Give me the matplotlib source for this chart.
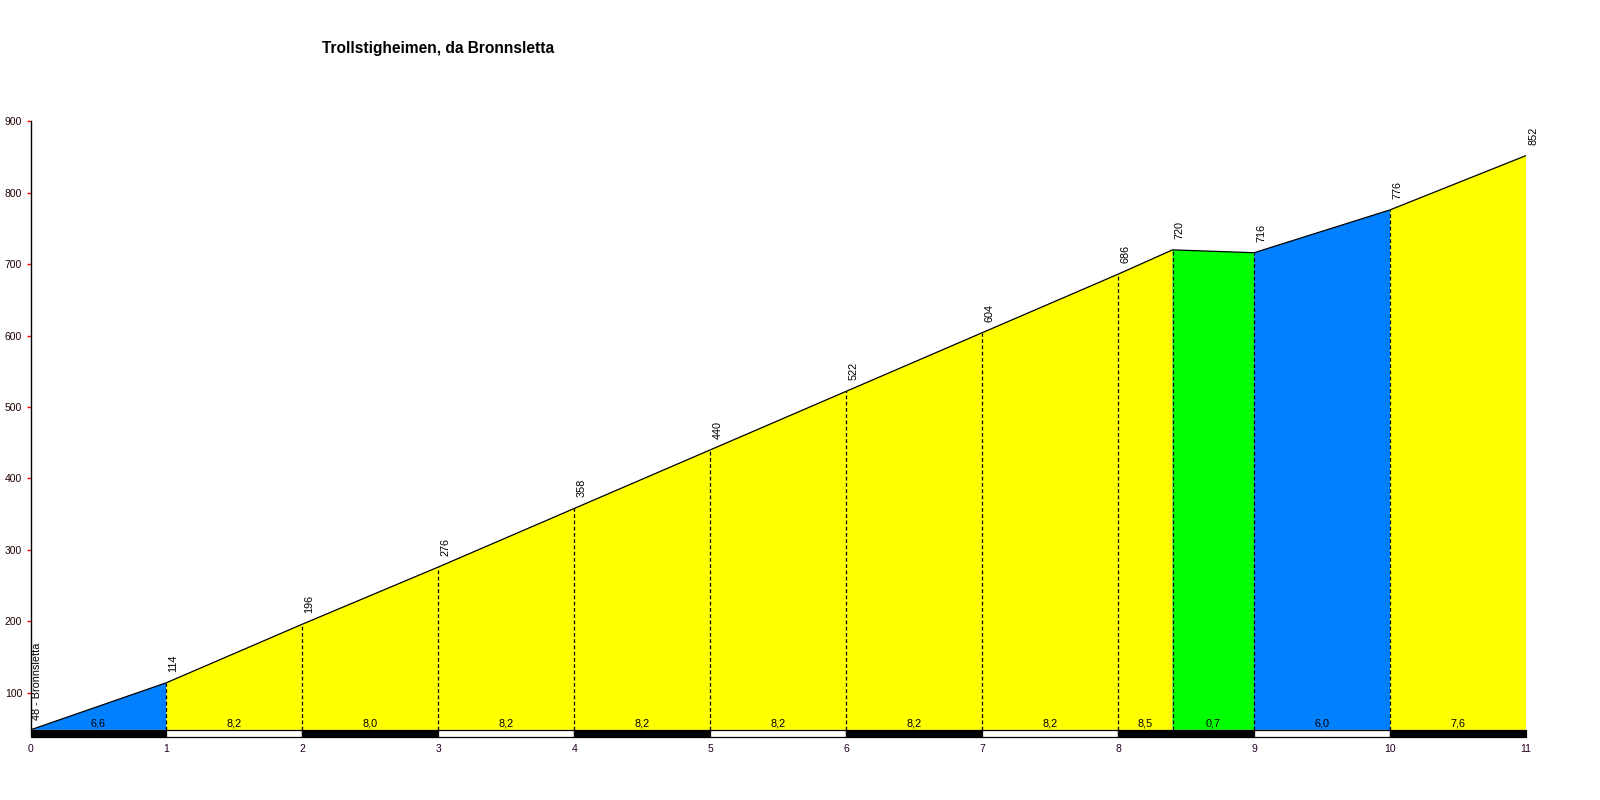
import matplotlib
matplotlib.use("Agg")
import matplotlib.pyplot as plt
from matplotlib.patches import Polygon, Rectangle
from matplotlib.transforms import offset_copy

# ---- data ----
dist = [0, 1, 2, 3, 4, 5, 6, 7, 8, 8.4, 9, 10, 11]
elev = [48, 114, 196, 276, 358, 440, 522, 604, 686, 720, 716, 776, 852]
grades = ["6,6", "8,2", "8,0", "8,2", "8,2", "8,2", "8,2", "8,2", "8,5", "0,7", "6,0", "7,6"]
seg_colors = ["#0080FF", "#FFFF00", "#FFFF00", "#FFFF00", "#FFFF00", "#FFFF00",
              "#FFFF00", "#FFFF00", "#FFFF00", "#00FF00", "#0080FF", "#FFFF00"]
start_label = "48 - Bronnsletta"
title = "Trollstigheimen, da Bronnsletta"
yticks = [100, 200, 300, 400, 500, 600, 700, 800, 900]
xticks = list(range(0, 12))

plt.rcParams['font.family'] = ['Liberation Sans', 'DejaVu Sans']

fig = plt.figure(figsize=(16, 8), dpi=100)
left_px, right_px, top_px, bot_px = 30.5, 1526, 121.3, 737
ax = fig.add_axes([left_px/1600, 1-bot_px/800, (right_px-left_px)/1600, (bot_px-top_px)/800])
ybot = 38
ax.set_xlim(0, 11)
ax.set_ylim(ybot, 900)

# filled segments
for i in range(len(dist)-1):
    x0, x1 = dist[i], dist[i+1]
    y0, y1 = elev[i], elev[i+1]
    poly = Polygon([(x0, elev[0]), (x0, y0), (x1, y1), (x1, elev[0])],
                   closed=True, facecolor=seg_colors[i], edgecolor='none', zorder=1)
    ax.add_patch(poly)
    ax.text((x0+x1)/2, elev[0]+2, grades[i], ha='center', va='bottom',
            fontsize=7.8, color='black', zorder=5)

# profile line
ax.plot(dist, elev, color='black', lw=0.9, zorder=3)

# dashed verticals
for x, y in zip(dist[1:-1], elev[1:-1]):
    ax.plot([x, x], [elev[0], y], color='black', lw=0.9, ls=(0, (3, 2)), zorder=2)

# km strip
for k in range(11):
    fc = 'black' if k % 2 == 0 else 'white'
    ax.add_patch(Rectangle((k, ybot+0.7), 1, elev[0]-ybot-1.2, facecolor=fc,
                           edgecolor='black', lw=0.9, zorder=4, clip_on=False))

# elevation labels
tr = offset_copy(ax.transData, fig=fig, x=7, y=11, units='dots')
for x, y in zip(dist[1:], elev[1:]):
    ax.text(x, y, str(y), rotation=90, ha='center', va='bottom', fontsize=7.8,
            transform=tr, zorder=6)
tr0 = offset_copy(ax.transData, fig=fig, x=6, y=10, units='dots')
ax.text(dist[0], elev[0], start_label, rotation=90, ha='center', va='bottom',
        fontsize=7.8, transform=tr0, zorder=6)

# axes styling
for s in ['top', 'right', 'bottom']:
    ax.spines[s].set_visible(False)
ax.spines['left'].set_bounds(elev[0], 900)
ax.spines['left'].set_linewidth(1.0)
ax.set_yticks(yticks)
ax.set_yticklabels([str(v) for v in yticks], fontsize=7.5, color='#200000')
ax.tick_params(axis='y', length=3, color='red', width=1, pad=3)
ax.set_xticks(xticks)
ax.set_xticklabels([str(v) for v in xticks], fontsize=7.5, color='#200020')
ax.tick_params(axis='x', length=0, pad=5)

fig.text(438/1600, 1-48/800, title, ha='center', va='center', fontsize=11.2,
         fontweight='bold')

fig.savefig("out.png", dpi=100)
